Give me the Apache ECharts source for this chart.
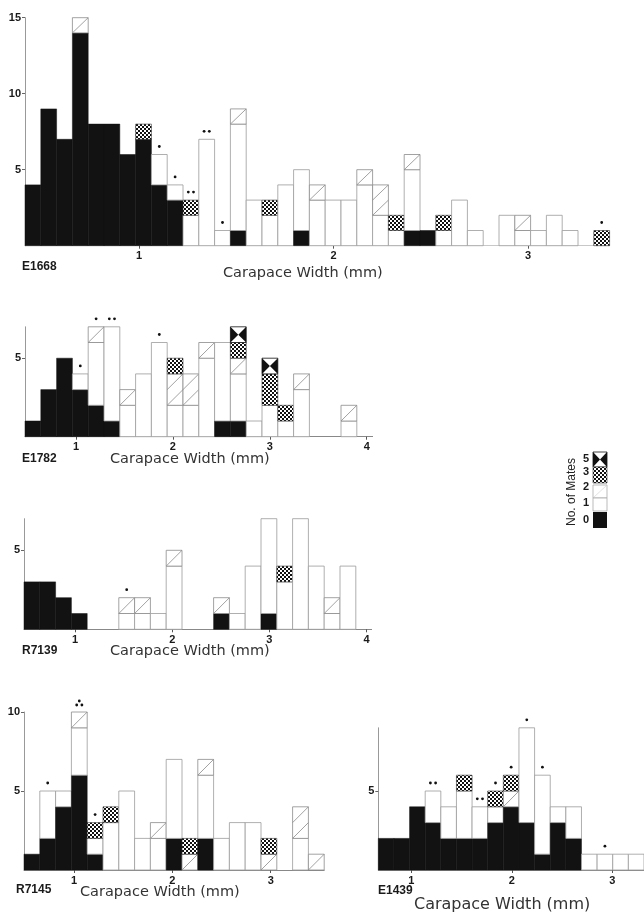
<!DOCTYPE html>
<html>
<head>
<meta charset="utf-8">
<script src="https://cdn.jsdelivr.net/npm/echarts@6/dist/echarts.min.js"></script>
<style>
  html, body { margin: 0; padding: 0; background: #fff; }
  #main { width: 644px; height: 914px; }
</style>
</head>
<body>
<div id="main"></div>
<script>
// counts per size bin, stacked bottom -> top by number of mates: 0, 1, 2, 3, 5
// dots = number of dots printed above the bar

// E1668
var e1668None  = [4, 9, 7, 14, 8, 8, 6, 7, 4, 3, 0, 0, 0, 1, 0, 0, 0, 1, 0, 0, 0, 0, 0, 0, 1, 1, 0, 0, 0, 0, 0, 0, 0, 0, 0, 0, 0];
var e1668One   = [0, 0, 0, 0, 0, 0, 0, 0, 2, 1, 2, 7, 1, 7, 3, 2, 4, 4, 3, 3, 3, 4, 2, 1, 4, 0, 1, 3, 1, 0, 2, 1, 1, 2, 1, 0, 0];
var e1668Two   = [0, 0, 0, 1, 0, 0, 0, 0, 0, 0, 0, 0, 0, 1, 0, 0, 0, 0, 1, 0, 0, 1, 2, 0, 1, 0, 0, 0, 0, 0, 0, 1, 0, 0, 0, 0, 0];
var e1668Three = [0, 0, 0, 0, 0, 0, 0, 1, 0, 0, 1, 0, 0, 0, 0, 1, 0, 0, 0, 0, 0, 0, 0, 1, 0, 0, 1, 0, 0, 0, 0, 0, 0, 0, 0, 0, 1];
var e1668Five  = [0, 0, 0, 0, 0, 0, 0, 0, 0, 0, 0, 0, 0, 0, 0, 0, 0, 0, 0, 0, 0, 0, 0, 0, 0, 0, 0, 0, 0, 0, 0, 0, 0, 0, 0, 0, 0];
var e1668Dots  = [0, 0, 0, 0, 0, 0, 0, 0, 1, 1, 2, 2, 1, 0, 0, 0, 0, 0, 0, 0, 0, 0, 0, 0, 0, 0, 0, 0, 0, 0, 0, 0, 0, 0, 0, 0, 1];

// E1782
var e1782None  = [1, 3, 5, 3, 2, 1, 0, 0, 0, 0, 0, 0, 1, 1, 0, 0, 0, 0, 0, 0, 0, 0];
var e1782One   = [0, 0, 0, 1, 4, 6, 2, 4, 6, 2, 2, 5, 5, 3, 1, 2, 1, 3, 0, 0, 1, 0];
var e1782Two   = [0, 0, 0, 0, 1, 0, 1, 0, 0, 2, 2, 1, 0, 1, 0, 0, 0, 1, 0, 0, 1, 0];
var e1782Three = [0, 0, 0, 0, 0, 0, 0, 0, 0, 1, 0, 0, 0, 1, 0, 2, 1, 0, 0, 0, 0, 0];
var e1782Five  = [0, 0, 0, 0, 0, 0, 0, 0, 0, 0, 0, 0, 0, 1, 0, 1, 0, 0, 0, 0, 0, 0];
var e1782Dots  = [0, 0, 0, 1, 1, 2, 0, 0, 1, 0, 0, 0, 0, 0, 0, 0, 0, 0, 0, 0, 0, 0];

// R7139
var r7139None  = [3, 3, 2, 1, 0, 0, 0, 0, 0, 0, 0, 0, 1, 0, 0, 1, 0, 0, 0, 0, 0, 0];
var r7139One   = [0, 0, 0, 0, 0, 0, 1, 1, 1, 4, 0, 0, 0, 1, 4, 6, 3, 7, 4, 1, 4, 0];
var r7139Two   = [0, 0, 0, 0, 0, 0, 1, 1, 0, 1, 0, 0, 1, 0, 0, 0, 0, 0, 0, 1, 0, 0];
var r7139Three = [0, 0, 0, 0, 0, 0, 0, 0, 0, 0, 0, 0, 0, 0, 0, 0, 1, 0, 0, 0, 0, 0];
var r7139Five  = [0, 0, 0, 0, 0, 0, 0, 0, 0, 0, 0, 0, 0, 0, 0, 0, 0, 0, 0, 0, 0, 0];
var r7139Dots  = [0, 0, 0, 0, 0, 0, 1, 0, 0, 0, 0, 0, 0, 0, 0, 0, 0, 0, 0, 0, 0, 0];

// R7145
var r7145None  = [1, 2, 4, 6, 1, 0, 0, 0, 0, 2, 0, 2, 0, 0, 0, 0, 0, 0, 0];
var r7145One   = [0, 3, 1, 3, 1, 3, 5, 2, 2, 5, 0, 4, 2, 3, 3, 0, 0, 2, 0];
var r7145Two   = [0, 0, 0, 1, 0, 0, 0, 0, 1, 0, 1, 1, 0, 0, 0, 1, 0, 2, 1];
var r7145Three = [0, 0, 0, 0, 1, 1, 0, 0, 0, 0, 1, 0, 0, 0, 0, 1, 0, 0, 0];
var r7145Five  = [0, 0, 0, 0, 0, 0, 0, 0, 0, 0, 0, 0, 0, 0, 0, 0, 0, 0, 0];
var r7145Dots  = [0, 1, 0, 3, 1, 0, 0, 0, 0, 0, 0, 0, 0, 0, 0, 0, 0, 0, 0];

// E1439
var e1439None  = [2, 2, 4, 3, 2, 2, 2, 3, 4, 3, 1, 3, 2, 0, 0, 0, 0];
var e1439One   = [0, 0, 0, 2, 2, 3, 2, 1, 0, 6, 5, 1, 2, 1, 1, 1, 1];
var e1439Two   = [0, 0, 0, 0, 0, 0, 0, 0, 1, 0, 0, 0, 0, 0, 0, 0, 0];
var e1439Three = [0, 0, 0, 0, 0, 1, 0, 1, 1, 0, 0, 0, 0, 0, 0, 0, 0];
var e1439Five  = [0, 0, 0, 0, 0, 0, 0, 0, 0, 0, 0, 0, 0, 0, 0, 0, 0];
var e1439Dots  = [0, 0, 0, 2, 0, 0, 2, 1, 1, 1, 1, 0, 0, 0, 1, 0, 0];

var tickMm = [1, 2, 3];
var tickMm4 = [1, 2, 3, 4];

var chart = echarts.init(document.getElementById('main'));

/* stipple for the "3 mates" cells */
var dotCanvas = document.createElement('canvas');
dotCanvas.width = 4;
dotCanvas.height = 4;
var ctx = dotCanvas.getContext('2d');
ctx.fillStyle = '#fff';
ctx.fillRect(0, 0, 4, 4);
ctx.fillStyle = '#111';
ctx.fillRect(0, 0, 2, 2);
ctx.fillRect(2, 2, 2, 2);

var segStyle = [
  { fill: '#121212', stroke: '#121212', lineWidth: 0.5 },
  { fill: '#fff', stroke: '#9a9a9a', lineWidth: 0.8 },
  { fill: '#fff', stroke: '#8a8a8a', lineWidth: 0.8 },
  { fill: { image: dotCanvas, repeat: 'repeat' }, stroke: '#333', lineWidth: 0.6 },
  { fill: '#fff', stroke: '#111', lineWidth: 0.8 }
];

function renderBin(params, api) {
  var i = api.value(0);
  var w = api.size([1, 0])[0];
  var xc = api.coord([i, 0])[0];
  var x0 = xc - w / 2, x1 = xc + w / 2;
  var children = [];
  var base = 0;
  for (var k = 0; k < 5; k++) {
    var c = api.value(k + 1);
    if (!c) continue;
    var yb = api.coord([i, base])[1];
    var yt = api.coord([i, base + c])[1];
    var u = (yb - yt) / c;
    children.push({
      type: 'rect',
      shape: { x: x0, y: yt, width: w, height: yb - yt },
      style: segStyle[k]
    });
    for (var j = 0; j < c; j++) {
      var b = yb - j * u, t = yb - (j + 1) * u;
      if (k === 2) {
        children.push({
          type: 'line',
          shape: { x1: x0, y1: b, x2: x1, y2: t },
          style: { stroke: '#8a8a8a', lineWidth: 0.8 }
        });
      }
      if (k === 4) {
        var m = (b + t) / 2;
        children.push({ type: 'polygon', shape: { points: [[x0, t], [x0, b], [xc, m]] }, style: { fill: '#111' } });
        children.push({ type: 'polygon', shape: { points: [[x1, t], [x1, b], [xc, m]] }, style: { fill: '#111' } });
      }
    }
    base += c;
  }
  // dots above the bar
  var nd = api.value(6);
  var top = api.coord([i, base])[1];
  var pts = [];
  if (nd === 1) pts = [[xc, top - 8]];
  if (nd === 2) pts = [[xc - 2.6, top - 8], [xc + 2.6, top - 8]];
  if (nd === 3) pts = [[xc - 2.6, top - 7], [xc + 2.6, top - 7], [xc, top - 11]];
  pts.forEach(function (p) {
    children.push({ type: 'circle', shape: { cx: p[0], cy: p[1], r: 1.4 }, style: { fill: '#111' } });
  });
  return { type: 'group', children: children };
}

var panels = [
  { name: 'E1668', none: e1668None, one: e1668One, two: e1668Two, three: e1668Three, five: e1668Five, dots: e1668Dots,
    grid: { left: 25, top: 17.7, width: 584.6, height: 228 }, xMin: 0.4139, xMax: 3.4195, yMax: 15, yTicks: [5, 10, 15], xTicks: tickMm, axisColor: '#c8c8c8' },
  { name: 'E1782', none: e1782None, one: e1782One, two: e1782Two, three: e1782Three, five: e1782Five, dots: e1782Dots,
    grid: { left: 25, top: 326.8, width: 347.6, height: 109.9 }, xMin: 0.4737, xMax: 4.061, yMax: 7, yTicks: [5], xTicks: tickMm4, axisColor: '#888' },
  { name: 'R7139', none: r7139None, one: r7139One, two: r7139Two, three: r7139Three, five: r7139Five, dots: r7139Dots,
    grid: { left: 24, top: 518.7, width: 347.6, height: 110.6 }, xMin: 0.4753, xMax: 4.051, yMax: 7, yTicks: [5], xTicks: tickMm4, axisColor: '#888' },
  { name: 'R7145', none: r7145None, one: r7145One, two: r7145Two, three: r7145Three, five: r7145Five, dots: r7145Dots,
    grid: { left: 24, top: 712, width: 300.2, height: 158 }, xMin: 0.4916, xMax: 3.544, yMax: 10, yTicks: [5, 10], xTicks: tickMm, axisColor: '#888' },
  { name: 'E1439', none: e1439None, one: e1439One, two: e1439Two, three: e1439Three, five: e1439Five, dots: e1439Dots,
    grid: { left: 378.3, top: 727.8, width: 268.6, height: 142.2 }, xMin: 0.6714, xMax: 3.314, yMax: 9, yTicks: [5], xTicks: tickMm, axisColor: '#888' }
];

var numFont = { color: '#1a1a1a', fontSize: 11, fontWeight: 'bold', fontFamily: 'Liberation Sans' };

var grids = [], xAxes = [], yAxes = [], series = [];
panels.forEach(function (p, n) {
  grids.push(p.grid);
  xAxes.push({
    type: 'category', gridIndex: n, show: false,
    data: p.none.map(function (v, i) { return i; })
  });
  xAxes.push({
    type: 'value', gridIndex: n, position: 'bottom', min: p.xMin, max: p.xMax,
    axisLine: { lineStyle: { color: p.axisColor, width: 1 } },
    axisTick: { customValues: p.xTicks, length: 3, lineStyle: { color: '#555' } },
    axisLabel: Object.assign({ customValues: p.xTicks, margin: 5 }, numFont),
    splitLine: { show: false }
  });
  yAxes.push({
    type: 'value', gridIndex: n, min: 0, max: p.yMax,
    axisLine: { show: true, lineStyle: { color: '#999', width: 1 } },
    axisTick: { show: true, customValues: p.yTicks, length: 3, lineStyle: { color: '#666' } },
    axisLabel: Object.assign({ customValues: p.yTicks, margin: 4 }, numFont),
    splitLine: { show: false }
  });
  series.push({
    type: 'custom', name: p.name,
    xAxisIndex: 2 * n, yAxisIndex: n,
    renderItem: renderBin,
    encode: { x: 0, y: 1 },
    data: p.none.map(function (v, i) {
      return [i, v, p.one[i], p.two[i], p.three[i], p.five[i], p.dots[i]];
    })
  });
});

var idFont = { fontSize: 12, fontWeight: 'bold', fill: '#1a1a1a', fontFamily: 'Liberation Sans' };
var cwFont = { fontSize: 14.5, fill: '#333', fontFamily: 'DejaVu Sans' };
var cwFontBig = { fontSize: 16, fill: '#333', fontFamily: 'DejaVu Sans' };
var keyFont = { fontSize: 11, fontWeight: 'bold', fill: '#1a1a1a', fontFamily: 'Liberation Sans' };
function label(x, y, text, font, align) {
  return { type: 'text', x: x, y: y, style: Object.assign({ text: text, textVerticalAlign: 'middle', textAlign: align || 'left' }, font) };
}

var graphics = [
  label(22, 267, 'E1668', idFont), label(223, 273, 'Carapace Width (mm)', cwFont),
  label(22, 459, 'E1782', idFont), label(110, 459, 'Carapace Width (mm)', cwFont),
  label(22, 651, 'R7139', idFont), label(110, 651, 'Carapace Width (mm)', cwFont),
  label(16, 890, 'R7145', idFont), label(80, 892, 'Carapace Width (mm)', cwFont),
  label(378, 891, 'E1439', idFont), label(414, 905, 'Carapace Width (mm)', cwFontBig),
  // legend
  { type: 'text', x: 572, y: 492, rotation: Math.PI / 2,
    style: { text: 'No. of Mates', textAlign: 'center', textVerticalAlign: 'middle', fontSize: 12, fill: '#222', fontFamily: 'Liberation Sans' } },
  label(586, 459, '5', keyFont, 'center'), label(586, 472, '3', keyFont, 'center'),
  label(586, 487, '2', keyFont, 'center'), label(586, 503, '1', keyFont, 'center'),
  label(586, 520, '0', keyFont, 'center'),
  { type: 'rect', shape: { x: 593, y: 452, width: 14, height: 15 }, style: { fill: '#fff', stroke: '#111', lineWidth: 0.8 } },
  { type: 'polygon', shape: { points: [[593, 452], [593, 467], [600, 459.5]] }, style: { fill: '#111' } },
  { type: 'polygon', shape: { points: [[607, 452], [607, 467], [600, 459.5]] }, style: { fill: '#111' } },
  { type: 'rect', shape: { x: 593, y: 467, width: 14, height: 16 }, style: { fill: { image: dotCanvas, repeat: 'repeat' }, stroke: '#333', lineWidth: 0.6 } },
  { type: 'rect', shape: { x: 593, y: 485, width: 14, height: 13 }, style: { fill: '#fff', stroke: '#aaa', lineWidth: 0.8 } },
  { type: 'line', shape: { x1: 593, y1: 498, x2: 607, y2: 485 }, style: { stroke: '#ccc', lineWidth: 0.6 } },
  { type: 'rect', shape: { x: 593, y: 498, width: 14, height: 13 }, style: { fill: '#fff', stroke: '#aaa', lineWidth: 0.8 } },
  { type: 'rect', shape: { x: 593, y: 512, width: 14, height: 16 }, style: { fill: '#111' } }
];

chart.setOption({
  animation: false,
  backgroundColor: '#fff',
  grid: grids,
  xAxis: xAxes,
  yAxis: yAxes,
  series: series,
  graphic: graphics
});
</script>
</body>
</html>
